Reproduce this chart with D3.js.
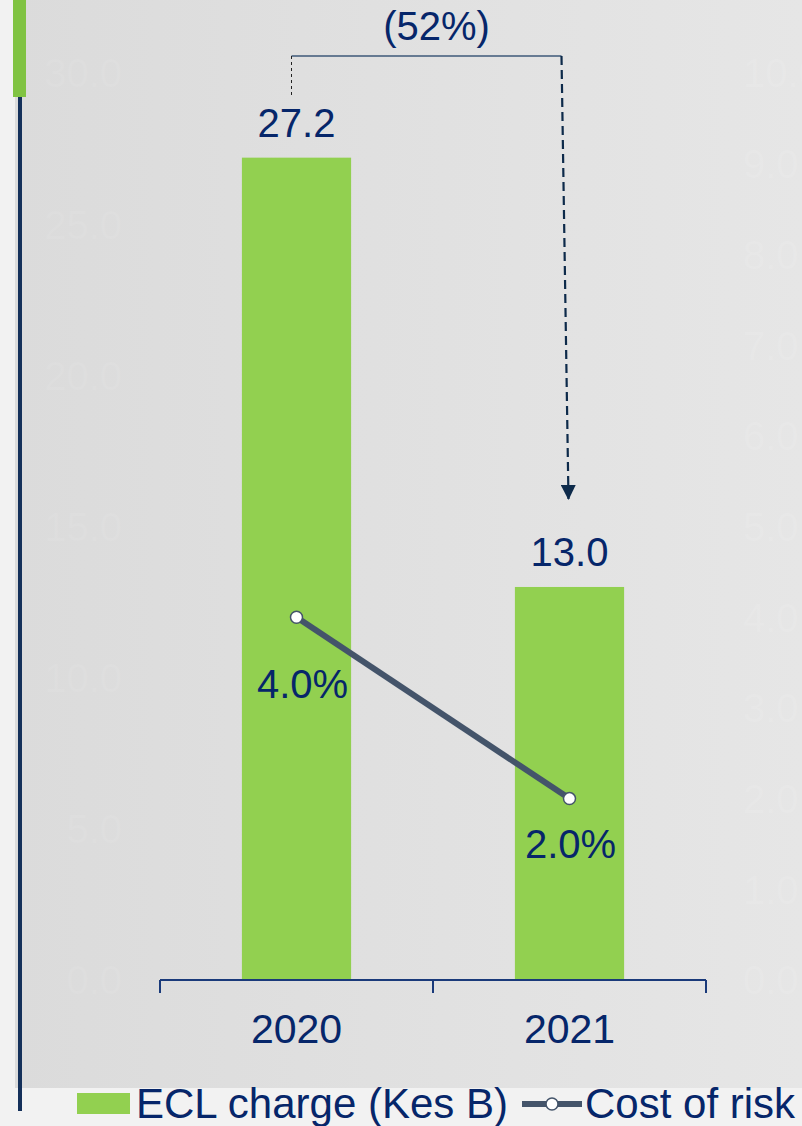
<!DOCTYPE html>
<html><head><meta charset="utf-8">
<script src="https://cdn.jsdelivr.net/npm/d3@7"></script>
<style>html,body{margin:0;padding:0;background:#f2f2f2;overflow:hidden}svg{display:block}</style>
</head><body>
<svg id="chart" width="802" height="1126"></svg>
<script>
const categories = ["2020", "2021"];
const eclCharge = [27.2, 13.0];
const costOfRisk = [4.0, 2.0];
const eclLabels = ["27.2", "13.0"];
const corLabels = ["4.0%", "2.0%"];
const leftTicks = [0, 5, 10, 15, 20, 25, 30];
const rightTicks = [0, 1, 2, 3, 4, 5, 6, 7, 8, 9, 10];
const changeLabel = "(52%)";
const legendLabels = ["ECL charge (Kes B)", "Cost of risk"];

const navy = "#06266a", lineCol = "#44546a", green = "#92d050";
const font = "Liberation Sans, Arial, sans-serif";
const svg = d3.select("#chart");

const defs = svg.append("defs");
const grad = defs.append("linearGradient").attr("id", "bg").attr("x1", "0").attr("x2", "1");
grad.append("stop").attr("offset", "0").attr("stop-color", "#dbdbdb");
grad.append("stop").attr("offset", "1").attr("stop-color", "#e6e6e6");
defs.append("marker").attr("id", "arrow").attr("viewBox", "0 0 10 10").attr("refX", 10).attr("refY", 5)
  .attr("markerWidth", 15).attr("markerHeight", 15).attr("markerUnits", "userSpaceOnUse").attr("orient", "auto")
  .append("path").attr("d", "M0,0 L10,5 L0,10 Z").attr("fill", "#0d2a4a");

// panel
svg.append("rect").attr("x", 15).attr("y", 0).attr("width", 787).attr("height", 1088).attr("fill", "url(#bg)");

// scales
const x = d3.scaleBand().domain(categories).range([160, 706]).paddingInner(0.6).paddingOuter(0.3);
const yL = d3.scaleLinear().domain([0, 30]).range([980, 73]);
const yR = d3.scaleLinear().domain([0, 10]).range([980, 73]);

// faint axis labels
const fmt = d3.format(".1f");
svg.append("g").selectAll("text").data(leftTicks).join("text")
  .attr("x", 122).attr("y", d => yL(d)).attr("dy", "0.36em").attr("text-anchor", "end")
  .attr("font-family", font).attr("font-size", 40).attr("fill", "#ffffff").attr("fill-opacity", 0.06)
  .text(d => fmt(d));
svg.append("g").selectAll("text").data(rightTicks).join("text")
  .attr("x", 743).attr("y", d => yR(d)).attr("dy", "0.36em").attr("text-anchor", "start")
  .attr("font-family", font).attr("font-size", 40).attr("fill", "#ffffff").attr("fill-opacity", 0.1)
  .text(d => fmt(d));

// bars
svg.append("g").selectAll("rect").data(categories).join("rect")
  .attr("x", d => x(d)).attr("width", x.bandwidth())
  .attr("y", (d, i) => yL(eclCharge[i])).attr("height", (d, i) => yL(0) - yL(eclCharge[i]))
  .attr("fill", green);

// x axis
const xAxis = svg.append("g").attr("transform", `translate(0,${yL(0)})`);
const ticksX = [160, 433, 706];
xAxis.append("line").attr("x1", 160).attr("x2", 706).attr("stroke", "#1a3a7a").attr("stroke-width", 2);
xAxis.selectAll("line.t").data(ticksX).join("line").attr("class", "t")
  .attr("x1", d => d).attr("x2", d => d).attr("y1", 0).attr("y2", 13).attr("stroke", "#1a3a7a").attr("stroke-width", 2);
svg.append("g").selectAll("text").data(categories).join("text")
  .attr("x", d => x(d) + x.bandwidth() / 2).attr("y", 1043).attr("text-anchor", "middle")
  .attr("font-family", font).attr("font-size", 41).attr("fill", navy).text(d => d);

// bar labels
svg.append("g").selectAll("text").data(categories).join("text")
  .attr("x", d => x(d) + x.bandwidth() / 2).attr("y", (d, i) => yL(eclCharge[i]) - 21).attr("text-anchor", "middle")
  .attr("font-family", font).attr("font-size", 40).attr("fill", navy).text((d, i) => eclLabels[i]);

// cost of risk line
const cx = d => x(d) + x.bandwidth() / 2;
svg.append("path").datum(categories)
  .attr("d", d3.line().x(d => cx(d)).y((d, i) => yR(costOfRisk[i])))
  .attr("fill", "none").attr("stroke", lineCol).attr("stroke-width", 6);
svg.append("g").selectAll("circle").data(categories).join("circle")
  .attr("cx", d => cx(d)).attr("cy", (d, i) => yR(costOfRisk[i])).attr("r", 6)
  .attr("fill", "#fff").attr("stroke", lineCol).attr("stroke-width", 1.5);
svg.append("g").selectAll("text").data(categories).join("text")
  .attr("x", (d, i) => cx(d) + (i === 0 ? 6 : 1)).attr("y", (d, i) => yR(costOfRisk[i]) + (i === 0 ? 81 : 59))
  .attr("text-anchor", "middle").attr("font-family", font).attr("font-size", 40).attr("fill", navy)
  .text((d, i) => corLabels[i]);

// change bracket
const x0 = cx(categories[0]) - 5, x1 = cx(categories[1]) - 8;
svg.append("line").attr("x1", x0).attr("x2", x1).attr("y1", 56).attr("y2", 56)
  .attr("stroke", "#3e5878").attr("stroke-width", 1.6);
svg.append("line").attr("x1", x0).attr("x2", x0).attr("y1", 56).attr("y2", 97)
  .attr("stroke", "#222").attr("stroke-width", 1).attr("stroke-dasharray", "3,3");
svg.append("line").attr("x1", x1).attr("x2", cx(categories[1]) - 1).attr("y1", 56).attr("y2", 500)
  .attr("stroke", "#0d2a4a").attr("stroke-width", 2.2).attr("stroke-dasharray", "9,5")
  .attr("marker-end", "url(#arrow)");
svg.append("text").attr("x", (x0 + x1) / 2 + 10).attr("y", 40).attr("text-anchor", "middle")
  .attr("font-family", font).attr("font-size", 40).attr("fill", navy).text(changeLabel);

// left accent
svg.append("rect").attr("x", 13).attr("y", 0).attr("width", 13).attr("height", 97).attr("fill", "#80c342");
svg.append("rect").attr("x", 18).attr("y", 97).attr("width", 4).attr("height", 1014).attr("fill", "#14305a");

// legend
svg.append("rect").attr("x", 77).attr("y", 1093).attr("width", 53).attr("height", 21).attr("fill", green);
svg.append("text").attr("x", 136).attr("y", 1118).attr("font-family", font).attr("font-size", 42)
  .attr("fill", navy).text(legendLabels[0]);
svg.append("line").attr("x1", 522).attr("x2", 582).attr("y1", 1104).attr("y2", 1104)
  .attr("stroke", lineCol).attr("stroke-width", 6);
svg.append("circle").attr("cx", 552).attr("cy", 1104).attr("r", 6).attr("fill", "#fff")
  .attr("stroke", lineCol).attr("stroke-width", 1.5);
svg.append("text").attr("x", 585).attr("y", 1118).attr("font-family", font).attr("font-size", 42)
  .attr("fill", navy).text(legendLabels[1]);
</script>
</body></html>
